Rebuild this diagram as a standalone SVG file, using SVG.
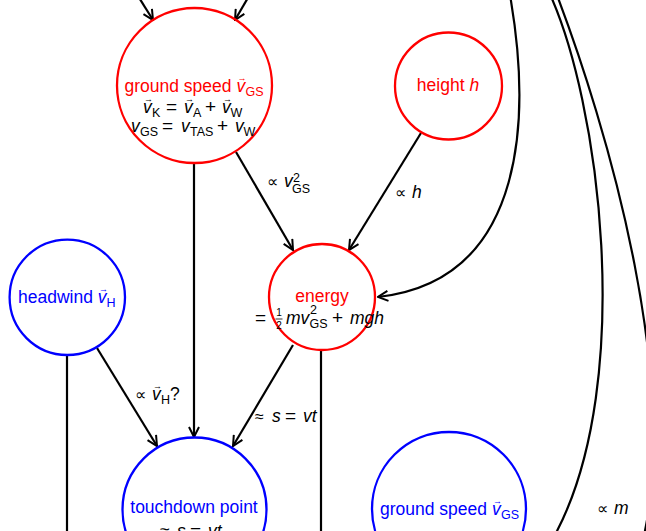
<svg xmlns="http://www.w3.org/2000/svg" width="646" height="531" viewBox="0 0 646 531">
<style>
.red{fill:none;stroke:#ff0000;stroke-width:2.3}
.blue{fill:none;stroke:#0000ff;stroke-width:2.3}
.edge{fill:none;stroke:#000;stroke-width:2.2}
text{font-family:"Liberation Sans",Arial,sans-serif;font-size:17.5px}
.rt{fill:#ff0000}
.bt{fill:#0000ff}
.k{fill:#000}
.lbl{fill:#000;font-size:16px}
.i{font-style:italic}
.s{font-size:12.5px;font-style:normal}
.op{font-size:19px;font-style:normal}
.va{font-size:9px;text-anchor:middle}
</style>
<defs>
<marker id="ah" viewBox="0 0 12 12" refX="11" refY="6" markerWidth="12" markerHeight="12" markerUnits="userSpaceOnUse" orient="auto">
<path d="M1,1 L11,6 L1,11" fill="none" stroke="#000" stroke-width="2"/>
</marker>
</defs>
<rect width="646" height="531" fill="#fff"/>
<g id="connectors">
<path class="edge" d="M138,-4 L153,20" marker-end="url(#ah)"/>
<path class="edge" d="M249,-4 L235,20" marker-end="url(#ah)"/>
<path class="edge" d="M236,152 L293,250" marker-end="url(#ah)"/>
<path class="edge" d="M421,133 L349,250" marker-end="url(#ah)"/>
<path class="edge" d="M194,163 L194,437" marker-end="url(#ah)"/>
<path class="edge" d="M97,348 L157,446" marker-end="url(#ah)"/>
<path class="edge" d="M293,345 L233,446" marker-end="url(#ah)"/>
<path class="edge" d="M67,355 L67,540"/>
<path class="edge" d="M321,349 L321,540"/>
<path class="edge" d="M510,-5 C530,110 530,280 378,297" marker-end="url(#ah)"/>
<path class="edge" d="M548,-10 C600,100 635,380 557,531 L552,540"/>
<path class="edge" d="M555,-10 C605,120 690,400 636,565"/>
<text class="lbl"><tspan x="267" y="187">∝</tspan><tspan class="i" x="284" y="187" font-size="17.5">v</tspan><tspan class="s" x="293" y="182">2</tspan><tspan class="s" x="292" y="193">GS</tspan></text>
<text class="lbl"><tspan x="395" y="198">∝</tspan><tspan class="i" x="412" y="198" font-size="17.5">h</tspan></text>
<text class="lbl"><tspan x="135" y="400">∝</tspan><tspan class="i" x="152" y="400" font-size="17.5">v</tspan><tspan class="s" x="161" y="404">H</tspan><tspan x="170" y="400" font-size="17.5">?</tspan></text>
<text class="lbl va" x="157.5" y="389">→</text>
<text class="lbl"><tspan x="255" y="422">≈</tspan><tspan class="i" x="272" y="422" font-size="17.5">s</tspan><tspan class="op" x="285" y="422">=</tspan><tspan class="i" x="303" y="422" font-size="17.5">vt</tspan></text>
<text class="lbl"><tspan x="597" y="514">∝</tspan><tspan class="i" x="614" y="514" font-size="17.5">m</tspan></text>
</g>
<g id="groundspeed">
<circle class="red" cx="194.5" cy="85.5" r="77.5"/>
<text class="rt" x="124.5" y="92">ground speed <tspan class="i">v</tspan><tspan class="s" x="245.5" y="96">GS</tspan></text>
<text class="rt va" x="242" y="81">→</text>
<text class="k"><tspan class="i" x="143" y="113">v</tspan><tspan class="s" x="152" y="117">K</tspan><tspan class="op" x="166" y="113">=</tspan><tspan class="i" x="184" y="113">v</tspan><tspan class="s" x="193" y="117">A</tspan><tspan class="op" x="205" y="113">+</tspan><tspan class="i" x="222" y="113">v</tspan><tspan class="s" x="230.5" y="117">W</tspan></text>
<text class="k va" x="148.5" y="102">→</text>
<text class="k va" x="189.5" y="102">→</text>
<text class="k va" x="227.5" y="102">→</text>
<text class="k"><tspan class="i" x="131" y="132">v</tspan><tspan class="s" x="140" y="136">GS</tspan><tspan class="op" x="162" y="132">=</tspan><tspan class="i" x="181" y="132">v</tspan><tspan class="s" x="190" y="136">TAS</tspan><tspan class="op" x="217" y="132">+</tspan><tspan class="i" x="235" y="132">v</tspan><tspan class="s" x="243.5" y="136">W</tspan></text>
</g>
<g id="height">
<circle class="red" cx="448.5" cy="86" r="53.5"/>
<text class="rt" x="448" y="91" text-anchor="middle">height <tspan class="i">h</tspan></text>
</g>
<g id="headwind">
<circle class="blue" cx="67.3" cy="297.3" r="57.7"/>
<text class="bt" x="18" y="303">headwind <tspan class="i">v</tspan><tspan class="s" x="106.5" y="307">H</tspan></text>
<text class="bt va" x="103.5" y="292">→</text>
</g>
<g id="energy">
<circle class="red" cx="322" cy="297" r="53"/>
<text class="rt" x="322" y="302" text-anchor="middle">energy</text>
<text class="k"><tspan class="op" x="255" y="324">=</tspan><tspan x="279" y="316" font-size="10" text-anchor="middle">1</tspan><tspan x="279" y="329" font-size="10" text-anchor="middle">2</tspan><tspan class="i" x="286" y="324">mv</tspan><tspan class="s" x="310" y="314">2</tspan><tspan class="s" x="309.5" y="328">GS</tspan><tspan class="op" x="332" y="324">+</tspan><tspan class="i" x="350" y="324">mgh</tspan></text>
<line x1="275.5" y1="319" x2="282.5" y2="319" stroke="#000" stroke-width="0.8"/>
</g>
<g id="touchdown">
<circle class="blue" cx="194.5" cy="509.5" r="72"/>
<text class="bt" x="194" y="513" text-anchor="middle">touchdown point</text>
<text class="k"><tspan x="160" y="537">≈</tspan><tspan class="i" x="177" y="537">s</tspan><tspan class="op" x="190" y="537">=</tspan><tspan class="i" x="208" y="537">vt</tspan></text>
</g>
<g id="groundspeed2">
<circle class="blue" cx="449" cy="509" r="77"/>
<text class="bt" x="380" y="515">ground speed <tspan class="i">v</tspan><tspan class="s" x="501" y="519">GS</tspan></text>
<text class="bt va" x="497.5" y="504">→</text>
</g>
</svg>
